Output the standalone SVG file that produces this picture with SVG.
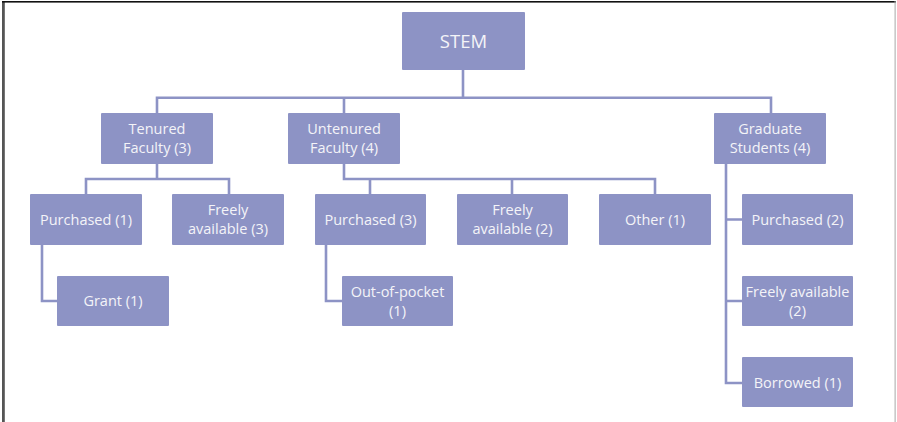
<svg xmlns="http://www.w3.org/2000/svg" width="897" height="422" viewBox="0 0 897 422">
<style>
.box{fill:#8d93c5;}
.t{font-family:"Open Sans","Liberation Sans",sans-serif;font-size:14.5px;fill:#f4f4f8;text-anchor:middle;}
.big{font-size:18.5px;}
.c{fill:none;stroke:#8d93c5;stroke-width:2.6;stroke-linejoin:miter;}
</style>
<rect x="0" y="0" width="897" height="422" fill="#ffffff"/>
<rect x="2" y="1" width="2.8" height="421" fill="#555555"/>
<rect x="2" y="1" width="894" height="1.6" fill="#111111"/>
<rect x="894.6" y="1" width="1" height="421" fill="#a8a8a8"/>
<g id="connectors">
<path class="c" d="M463,70 V97.7 M157,113 V97.7 H771 V113 M344,97.7 V113"/>
<path class="c" d="M157,164 V179 M86,194 V179 H229 V194"/>
<path class="c" d="M42,245 V301 H57"/>
<path class="c" d="M344,164 V179 H655 V194 M370,179 V194 M512,179 V194"/>
<path class="c" d="M326,245 V301 H342"/>
<path class="c" d="M726,164 V383 H742 M726,219.5 H742 M726,301 H742"/>
</g>
<g id="stem"><rect class="box" x="402" y="12" width="123" height="58" rx="1"/><text class="t big" x="463.5" y="48">STEM</text></g>
<g id="tenured"><rect class="box" x="101" y="113" width="112" height="51" rx="1"/><text class="t" x="157" y="133.5">Tenured</text><text class="t" x="157" y="152.5">Faculty (3)</text></g>
<g id="untenured"><rect class="box" x="288" y="113" width="112" height="51" rx="1"/><text class="t" x="344" y="133.5">Untenured</text><text class="t" x="344" y="152.5">Faculty (4)</text></g>
<g id="graduate"><rect class="box" x="714" y="113" width="112" height="51" rx="1"/><text class="t" x="770" y="133.5">Graduate</text><text class="t" x="770" y="152.5">Students (4)</text></g>
<g id="t-purchased"><rect class="box" x="30" y="194" width="112" height="51" rx="1"/><text class="t" x="86" y="225">Purchased (1)</text></g>
<g id="t-freely"><rect class="box" x="172" y="194" width="112" height="51" rx="1"/><text class="t" x="228" y="215">Freely</text><text class="t" x="228" y="234">available (3)</text></g>
<g id="t-grant"><rect class="box" x="57" y="276" width="112" height="50" rx="1"/><text class="t" x="113" y="306">Grant (1)</text></g>
<g id="u-purchased"><rect class="box" x="315" y="194" width="111" height="51" rx="1"/><text class="t" x="370.5" y="225">Purchased (3)</text></g>
<g id="u-freely"><rect class="box" x="457" y="194" width="111" height="51" rx="1"/><text class="t" x="512.5" y="215">Freely</text><text class="t" x="512.5" y="234">available (2)</text></g>
<g id="u-other"><rect class="box" x="599" y="194" width="112" height="51" rx="1"/><text class="t" x="655" y="225">Other (1)</text></g>
<g id="u-outofpocket"><rect class="box" x="342" y="276" width="111" height="50" rx="1"/><text class="t" x="397.5" y="297">Out-of-pocket</text><text class="t" x="397.5" y="316">(1)</text></g>
<g id="g-purchased"><rect class="box" x="742" y="194" width="111" height="51" rx="1"/><text class="t" x="797.5" y="225">Purchased (2)</text></g>
<g id="g-freely"><rect class="box" x="742" y="276" width="111" height="50" rx="1"/><text class="t" x="797.5" y="297">Freely available</text><text class="t" x="797.5" y="316">(2)</text></g>
<g id="g-borrowed"><rect class="box" x="742" y="357" width="111" height="50" rx="1"/><text class="t" x="797.5" y="388">Borrowed (1)</text></g>
</svg>
